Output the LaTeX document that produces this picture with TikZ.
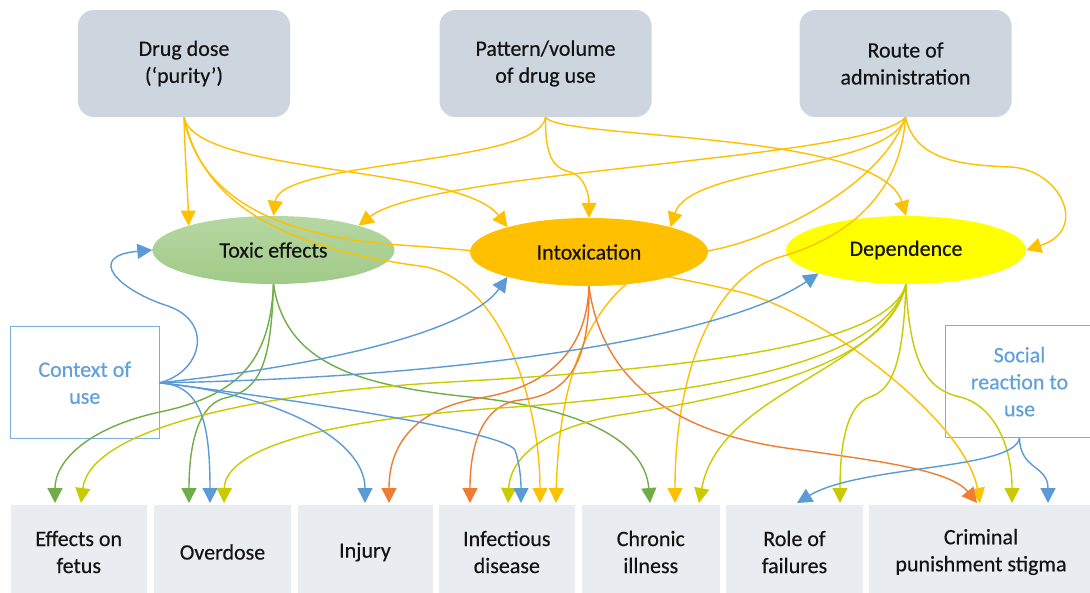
\documentclass[tikz,border=0pt]{standalone}
\usepackage{fontspec}
\setmainfont{Carlito}[FakeBold=0.4]
\usetikzlibrary{arrows.meta,shapes.geometric}
\pgfdeclarelayer{top}
\pgfsetlayers{main,top}
\definecolor{topc}{HTML}{CDD5DF}
\definecolor{botc}{HTML}{E9ECF1}
\definecolor{toxtop}{HTML}{B6D7A2}
\definecolor{toxbot}{HTML}{A0CA87}
\definecolor{intoxc}{HTML}{FFC000}
\definecolor{depc}{HTML}{FFFF00}
\definecolor{cgold}{HTML}{FFC000}
\definecolor{cgreen}{HTML}{70AD47}
\definecolor{corange}{HTML}{ED7D31}
\definecolor{cyellow}{HTML}{CACA00}
\definecolor{cblue}{HTML}{5B9BD5}
\definecolor{ctxtext}{HTML}{62A0DA}
\definecolor{ctxline}{HTML}{7EADE0}
\definecolor{txt}{HTML}{141414}
\newcommand{\diaglbl}{\fontsize{22}{27}\selectfont}
\tikzset{
  topbox/.style={fill=topc, rounded corners=16pt, minimum width=212pt, minimum height=107pt,
    align=center, inner sep=0pt, font=\diaglbl, text=txt},
  botbox/.style={fill=botc, minimum width=#1, minimum height=94pt, align=center,
    inner sep=0pt, outer xsep=0pt, outer ysep=2pt, font=\diaglbl, text=txt},
  ell/.style={ellipse, minimum width=240pt, minimum height=68pt, inner sep=0pt,
    font=\diaglbl, text=txt},
  ctxbox/.style={draw=ctxline, line width=1pt, fill=white, align=center, inner sep=0pt,
    font=\diaglbl, text=ctxtext},
  ctxframe/.style={draw=ctxline, line width=1pt},
  link/.style={line width=1.4pt, -{Triangle[width=15pt,length=15pt]}},
  lgold/.style={link, draw=cgold},
  lgreen/.style={link, draw=cgreen},
  lorange/.style={link, draw=corange},
  lyellow/.style={link, draw=cyellow},
  lblue/.style={link, draw=cblue},
}
\begin{document}
\begin{tikzpicture}[x=1pt,y=-1pt]
\useasboundingbox (0,0) rectangle (1090,592);
\clip (0,0) rectangle (1090,592);
\fill[white] (0,0) rectangle (1090,592);

% top boxes
\node[topbox] (dd) at (184,63.5) {Drug dose\\(‘purity’)};
\node[topbox] (pat) at (545.5,63.5) {Pattern/volume\\of drug use};
\node[topbox] (route) at (905.5,63.5) {Route of\\administration};

% ellipses
\node[ell, top color=toxtop, bottom color=toxbot, minimum width=242pt] (tox) at (273.5,250) {Toxic effects};
\node[ell, fill=depc] (dep) at (906,250) {Dependence};
\begin{pgfonlayer}{top}
\node[ell, fill=intoxc, minimum width=238pt] (intox) at (589,252) {Intoxication};
\end{pgfonlayer}

% side boxes
\node[ctxbox, minimum width=148.5pt, minimum height=112pt] (ctx) at (84.75,382.8) {Context of\\use};
\node[font=\diaglbl, text=ctxtext, align=center, minimum width=147pt, minimum height=112pt, inner sep=0pt] (social) at (1019.5,381.7) {Social\\reaction to\\use};
\draw[ctxframe] ([xshift=20pt]social.north east) -- (social.north west) -- (social.south west) -- ([xshift=20pt]social.south east);

% bottom boxes
\node[botbox=136.5pt] (fetus) at (78.75,552) {Effects on\\fetus};
\node[botbox=137pt] (over) at (222.5,552) {Overdose};
\node[botbox=135pt] (inj) at (365,552) {Injury};
\node[botbox=136.4pt] (inf) at (506.8,552) {Infectious\\disease};
\node[botbox=137.6pt] (chron) at (650.8,552) {Chronic\\illness};
\node[botbox=137pt] (role) at (794.5,552) {Role of\\failures};
\node[botbox=224pt] (crim) at (981,552) {Criminal\\punishment stigma};

% gold connectors
\draw[lgold] (dd.south) .. controls (185,160) and (188,195) .. (tox.164);
\draw[lgold] (dd.south) .. controls (195,175) and (460,165) .. (intox.163);
\draw[lgold] (dd.south) .. controls (200,190) and (260,245) .. (420,266) .. controls (500,276.5) and (540,400) .. (540,0 |- inf.north);
\draw[lgold] (dd.south) .. controls (195,180) and (250,235) .. (400,245) .. controls (530,254) and (640,268) .. (740,292) .. controls (820,311) and (965,420) .. (980,0 |- crim.north);
\draw[lgold] (pat.south) .. controls (540,165) and (280,160) .. (tox.north);
\draw[lgold] (pat.south) .. controls (545,160) and (555,168) .. (570,172) .. controls (585,176) and (589,195) .. (intox.north);
\draw[lgold] (pat.south) .. controls (560,140) and (880,130) .. (dep.north);
\draw[lgold] (route.south) .. controls (870,160) and (430,170) .. (tox.16);
\draw[lgold] (route.south) .. controls (890,170) and (690,165) .. (intox.17);
\draw[lgold] (route.south) .. controls (915,160) and (960,165) .. (1010,167) .. controls (1060,169) and (1090,230) .. (dep.east);
\draw[lgold] (route.south) .. controls (880,190) and (760,245) .. (700,252) .. controls (620,262) and (560,330) .. (556,0 |- inf.north);
\draw[lgold] (route.south) .. controls (900,200) and (840,240) .. (780,257) .. controls (720,274) and (675,360) .. (675,0 |- chron.north);

% green connectors
\draw[lgreen] (tox.south) .. controls (270,360) and (240,395) .. (160,412) .. controls (90,427) and (55,460) .. (55,0 |- fetus.north);
\draw[lgreen] (tox.south) .. controls (271,360) and (262,390) .. (225,398) .. controls (200,404) and (189,440) .. (189,0 |- over.north);
\draw[lgreen] (tox.south) .. controls (285,360) and (350,385) .. (470,397) .. controls (580,408) and (645,440) .. (650,0 |- chron.north);

% orange connectors
\draw[lorange] (intox.south) .. controls (587,340) and (560,385) .. (480,398) .. controls (420,408) and (389,440) .. (389,0 |- inj.north);
\draw[lorange] (intox.south) .. controls (590,360) and (570,395) .. (520,400) .. controls (485,404) and (470,440) .. (470,0 |- inf.north);
\draw[lorange] (intox.south) .. controls (600,370) and (660,430) .. (786,448) .. controls (880,461) and (950,470) .. (977,0 |- crim.north);

% yellow connectors
\draw[lyellow] (dep.south) .. controls (890,345) and (700,368) .. (450,382) .. controls (250,393) and (90,430) .. (81,0 |- fetus.north);
\draw[lyellow] (dep.south) .. controls (885,360) and (720,393) .. (500,408) .. controls (320,420) and (225,450) .. (224,0 |- over.north);
\draw[lyellow] (dep.south) .. controls (890,355) and (780,390) .. (620,415) .. controls (540,428) and (510,460) .. (508,0 |- inf.north);
\draw[lyellow] (dep.south) .. controls (885,370) and (720,390) .. (699,0 |- chron.north);
\draw[lyellow] (dep.south) .. controls (903,370) and (890,390) .. (870,397) .. controls (845,405) and (840,450) .. (840,0 |- role.north);
\draw[lyellow] (dep.south) .. controls (910,370) and (930,390) .. (960,397) .. controls (990,404) and (1012,440) .. (1012,0 |- crim.north);

% blue connectors
\draw[lblue] (ctx.east) .. controls (202,372) and (214,322) .. (168,306) .. controls (118,290) and (85,256) .. (tox.west);
\draw[lblue] (ctx.east) .. controls (330,365) and (470,330) .. (intox.197);
\draw[lblue] (ctx.east) .. controls (450,378) and (720,340) .. (dep.195);
\draw[lblue] (ctx.east) .. controls (200,385) and (210,420) .. (210,0 |- over.north);
\draw[lblue] (ctx.east) .. controls (280,395) and (365,440) .. (365,0 |- inj.north);
\draw[lblue] (ctx.east) .. controls (300,400) and (505,432) .. (515,450) .. controls (520,465) and (521,480) .. (521,0 |- inf.north);
\draw[lblue] (social.south) .. controls (1015,470) and (860,465) .. (797,0 |- role.north);
\draw[lblue] (social.south) .. controls (1020,470) and (1048,465) .. (1048,0 |- crim.north);
\end{tikzpicture}
\end{document}
